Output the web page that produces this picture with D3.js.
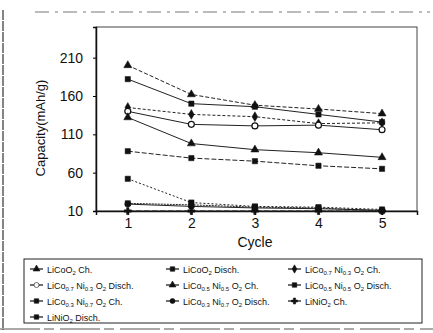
<!DOCTYPE html>
<html>
<head>
<meta charset="utf-8">
<script src="https://cdn.jsdelivr.net/npm/d3@7"></script>
<style>
  body { margin: 0; background: #fff; }
  svg { display: block; font-family: "Liberation Sans", Arial, sans-serif; }
</style>
</head>
<body>
<div id="chart"></div>
<script>
// cycle numbers on the x axis
const cycles = [1, 2, 3, 4, 5];
const yTicks = [10, 60, 110, 160, 210];

// capacity (mAh/g) per cycle
const licoo2Ch = [200, 162, 148, 143, 137];
const licoo2Disch = [182, 150, 146, 136, 126];
const co7ni3Ch = [145, 136, 133, 124, 125];
const co7ni3Disch = [140, 123, 121, 122, 116];
const co5ni5Ch = [132, 98, 90, 86, 80];
const co5ni5Disch = [88, 79, 75, 69, 65];
const co3ni7Ch = [52, 21, 16, 15, 12];
const co3ni7Disch = [19, 16, 14, 13, 11];
const linio2Ch = [10, 10, 10, 10, 10];
const linio2Disch = [20, 18, 15, 14, 10];

// legend label pieces: [text, subscript?]
const labels = [
  [['LiCoO', 0], ['2', 1], [' Ch.', 0]],
  [['LiCoO', 0], ['2', 1], [' Disch.', 0]],
  [['LiCo', 0], ['0.7', 1], [' Ni', 0], ['0.3', 1], [' O', 0], ['2', 1], [' Ch.', 0]],
  [['LiCo', 0], ['0.7', 1], [' Ni', 0], ['0.3', 1], [' O', 0], ['2', 1], [' Disch.', 0]],
  [['LiCo', 0], ['0.5', 1], [' Ni', 0], ['0.5', 1], [' O', 0], ['2', 1], [' Ch.', 0]],
  [['LiCo', 0], ['0.5', 1], [' Ni', 0], ['0.5', 1], [' O', 0], ['2', 1], [' Disch.', 0]],
  [['LiCo', 0], ['0.3', 1], [' Ni', 0], ['0.7', 1], [' O', 0], ['2', 1], [' Ch.', 0]],
  [['LiCo', 0], ['0.3', 1], [' Ni', 0], ['0.7', 1], [' O', 0], ['2', 1], [' Disch.', 0]],
  [['LiNiO', 0], ['2', 1], [' Ch.', 0]],
  [['LiNiO', 0], ['2', 1], [' Disch.', 0]]
];

const seriesValues = [licoo2Ch, licoo2Disch, co7ni3Ch, co7ni3Disch, co5ni5Ch,
  co5ni5Disch, co3ni7Ch, co3ni7Disch, linio2Ch, linio2Disch];
const symbols = [d3.symbolTriangle, d3.symbolSquare, d3.symbolDiamond, d3.symbolCircle, d3.symbolTriangle,
  d3.symbolSquare, d3.symbolSquare, d3.symbolCircle, d3.symbolCross, d3.symbolSquare];
const openSym = [false, false, false, true, false, false, false, false, false, false];
const dashes = ['4,2', null, '3,2', null, null, '5,2', '2,2', null, '6,2', '2,1'];

const width = 433;
const height = 333;
const plot = {left: 96, right: 417, top: 27, bottom: 211};

const svg = d3.select('#chart').append('svg')
  .attr('width', width).attr('height', height);

// scanned outer frame
svg.append('line').attr('x1', 3).attr('x2', 3).attr('y1', 10).attr('y2', 330)
  .attr('stroke', '#333').attr('stroke-width', 1.2).attr('stroke-dasharray', '10,1');
svg.append('line').attr('x1', 35).attr('x2', 430).attr('y1', 12).attr('y2', 12)
  .attr('stroke', '#777').attr('stroke-width', 1).attr('stroke-dasharray', '14,6,3,5');
svg.append('line').attr('x1', 0).attr('x2', 433).attr('y1', 329).attr('y2', 329)
  .attr('stroke', '#555').attr('stroke-width', 1).attr('stroke-dasharray', '40,4,10,6');

const x = d3.scaleLinear().domain([0.5, 5.55]).range([plot.left, plot.right]);
const y = d3.scaleLinear().domain([10, 250]).range([plot.bottom, plot.top]);

// plot box
svg.append('rect')
  .attr('x', plot.left).attr('y', plot.top)
  .attr('width', plot.right - plot.left).attr('height', plot.bottom - plot.top)
  .attr('fill', 'none').attr('stroke', '#444').attr('stroke-width', 1);

const yAxis = svg.append('g')
  .attr('transform', 'translate(' + plot.left + ',0)')
  .call(d3.axisLeft(y).tickValues(yTicks).tickSize(3).tickPadding(10));
yAxis.select('.domain').attr('stroke', '#111').attr('stroke-width', 1.5);
yAxis.selectAll('text').attr('font-size', 14).attr('fill', '#111');

const xAxis = svg.append('g')
  .attr('transform', 'translate(0,' + plot.bottom + ')')
  .call(d3.axisBottom(x).tickValues(cycles).tickFormat(d3.format('d')).tickSize(4).tickPadding(3));
xAxis.select('.domain').attr('stroke', '#111').attr('stroke-width', 1.5);
xAxis.selectAll('text').attr('font-size', 14).attr('fill', '#111');

svg.append('text').text('Cycle')
  .attr('x', 255).attr('y', 247).attr('text-anchor', 'middle')
  .attr('font-size', 14).attr('fill', '#111');
svg.append('text').text('Capacity(mAh/g)')
  .attr('transform', 'translate(45,128) rotate(-90)')
  .attr('text-anchor', 'middle').attr('font-size', 13).attr('fill', '#111');

const line = d3.line().x((d, i) => x(cycles[i])).y(d => y(d));
const g = svg.append('g');
seriesValues.forEach(function(vals, s) {
  g.append('path').datum(vals)
    .attr('d', line)
    .attr('fill', 'none')
    .attr('stroke', '#222')
    .attr('stroke-width', 1)
    .attr('stroke-dasharray', dashes[s]);
  g.selectAll('.m' + s).data(vals).enter().append('path')
    .attr('transform', (d, i) => 'translate(' + x(cycles[i]) + ',' + y(d) + ')')
    .attr('d', d3.symbol().type(symbols[s]).size(28))
    .attr('fill', openSym[s] ? '#fff' : '#111')
    .attr('stroke', '#111').attr('stroke-width', openSym[s] ? 1.2 : 0.5);
});

// legend
const legend = svg.append('g');
legend.append('rect').attr('x', 24).attr('y', 259).attr('width', 398).attr('height', 64)
  .attr('fill', 'none').attr('stroke', '#222').attr('stroke-width', 1);
const colX = [30, 166, 288];
const rowY = [269, 285, 301, 317];
labels.forEach(function(parts, s) {
  const cx = colX[s % 3];
  const cy = rowY[Math.floor(s / 3)];
  legend.append('line').attr('x1', cx).attr('x2', cx + 13).attr('y1', cy).attr('y2', cy)
    .attr('stroke', '#111').attr('stroke-width', 1.2);
  legend.append('path')
    .attr('transform', 'translate(' + (cx + 6.5) + ',' + cy + ')')
    .attr('d', d3.symbol().type(symbols[s]).size(20))
    .attr('fill', openSym[s] ? '#fff' : '#111').attr('stroke', '#111').attr('stroke-width', 0.6);
  const t = legend.append('text').attr('x', cx + 17).attr('y', cy + 3.5)
    .attr('font-size', 9).attr('fill', '#111');
  parts.forEach(function(p) {
    if (p[1]) {
      t.append('tspan').attr('font-size', 6).attr('dy', 2.5).text(p[0]);
    } else {
      const ts = t.append('tspan').text(p[0]);
      if (t.selectAll('tspan').size() > 1) ts.attr('dy', -2.5);
    }
  });
});
</script>
</body>
</html>
